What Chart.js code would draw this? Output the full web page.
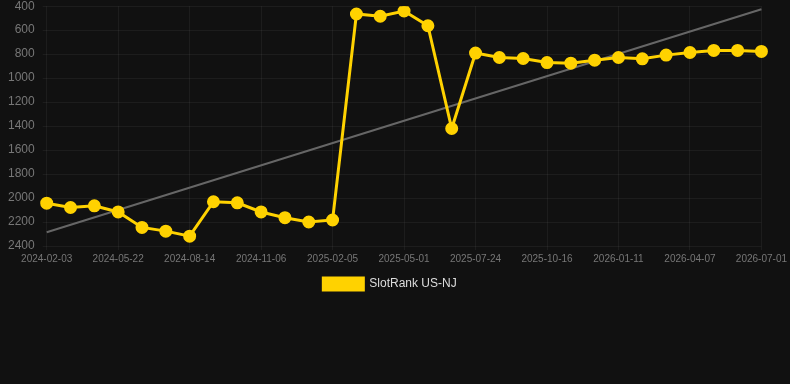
<!DOCTYPE html>
<html lang="en">
<head>
    <meta charset="UTF-8">
    <script src="https://cdn.jsdelivr.net/npm/chart.js"></script>
    <title>SlotRank US-NJ</title>
    <style>
      body { margin: 0; background: #111111; overflow: hidden; }
      .grafico { width: 790px; height: 309px; margin-top: -9px; }
    </style>
</head>
<body>
    <div class="grafico">
      <canvas id="grafico_1"></canvas>
    </div>

<script>
  // datas (categorias) - so cada 3a aparece no eixo
  const datas = [
    '2024-02-03', '2024-03-10', '2024-04-15', '2024-05-22', '2024-06-19', '2024-07-17',
    '2024-08-14', '2024-09-11', '2024-10-09', '2024-11-06', '2024-12-04', '2025-01-07',
    '2025-02-05', '2025-03-05', '2025-04-02', '2025-05-01', '2025-05-29', '2025-06-26',
    '2025-07-24', '2025-08-21', '2025-09-18', '2025-10-16', '2025-11-13', '2025-12-14',
    '2026-01-11', '2026-02-08', '2026-03-10', '2026-04-07', '2026-05-05', '2026-06-02',
    '2026-07-01'
  ]

  const ranking = [
    2043, 2079, 2065, 2116, 2245, 2276, 2318, 2031, 2040, 2116, 2164, 2200,
    2183, 465, 484, 440, 563, 1420, 791, 828, 836, 870, 875, 850,
    828, 839, 808, 786, 769, 769, 777
  ]

  // linha de tendencia: inicio e fim
  const tendenciaInicio = 2285
  const tendenciaFim = 425

  const yTicks = [400, 600, 800, 1000, 1200, 1400, 1600, 1800, 2000, 2200, 2400]

  var tendencia = datas.map(function (d, i) {
    if (i == 0) return tendenciaInicio
    if (i == datas.length - 1) return tendenciaFim
    return null
  })

  const ctx = document.getElementById('grafico_1');

  var grafico = new Chart(ctx, {
    type: 'line',
    data: {
      labels: datas,
      datasets: [{
        label: 'SlotRank US-NJ',
        data: ranking,
        borderColor: '#ffd200',
        backgroundColor: '#ffd200',
        borderWidth: 3,
        pointRadius: 5,
        pointHoverRadius: 6,
        tension: 0
      },
      {
        label: 'trend',
        data: tendencia,
        borderColor: '#666666',
        borderWidth: 2,
        pointRadius: 0,
        spanGaps: true
      }
    ]
    },
    options: {
      maintainAspectRatio: false,
      animation: false,
      layout: {
        autoPadding: false,
        padding: { top: 0, right: 10, left: 0, bottom: 0 }
      },
      plugins: {
          legend: {
            position: 'bottom',
            labels: {
              color: '#dddddd',
              font: { size: 12, family: 'Liberation Sans, Arial' },
              boxWidth: 40,
              boxHeight: 12,
              filter: function (item) {
                return item.text != 'trend'
              }
            }
          },
          tooltip: { enabled: false }
        },
      scales: {
        y: {
          reverse: true,
          min: 400,
          max: 2400,
          afterBuildTicks: function (axis) {
            axis.ticks = yTicks.map(function (v) { return { value: v } })
          },
          ticks: {
            color: '#777777',
            font: { size: 12, family: 'Liberation Sans, Arial' },
            padding: 8,
            callback: function (value) {
              return String(value)
            }
          },
          grid: {
            color: 'rgba(255,255,255,0.05)',
            tickLength: 4
          },
          border: { display: false }
        },
        x: {
          ticks: {
            color: '#777777',
            autoSkip: false,
            maxRotation: 0,
            font: { size: 10, family: 'Liberation Sans, Arial' },
            callback: function (value, index) {
              return index % 3 == 0 ? datas[index] : ''
            }
          },
          grid: {
            color: function (c) {
              return c.index % 3 == 0 ? 'rgba(255,255,255,0.05)' : 'rgba(0,0,0,0)'
            },
            tickLength: 4
          },
          border: { display: false }
        }
      }
    }
  });
</script>
</body>
</html>
